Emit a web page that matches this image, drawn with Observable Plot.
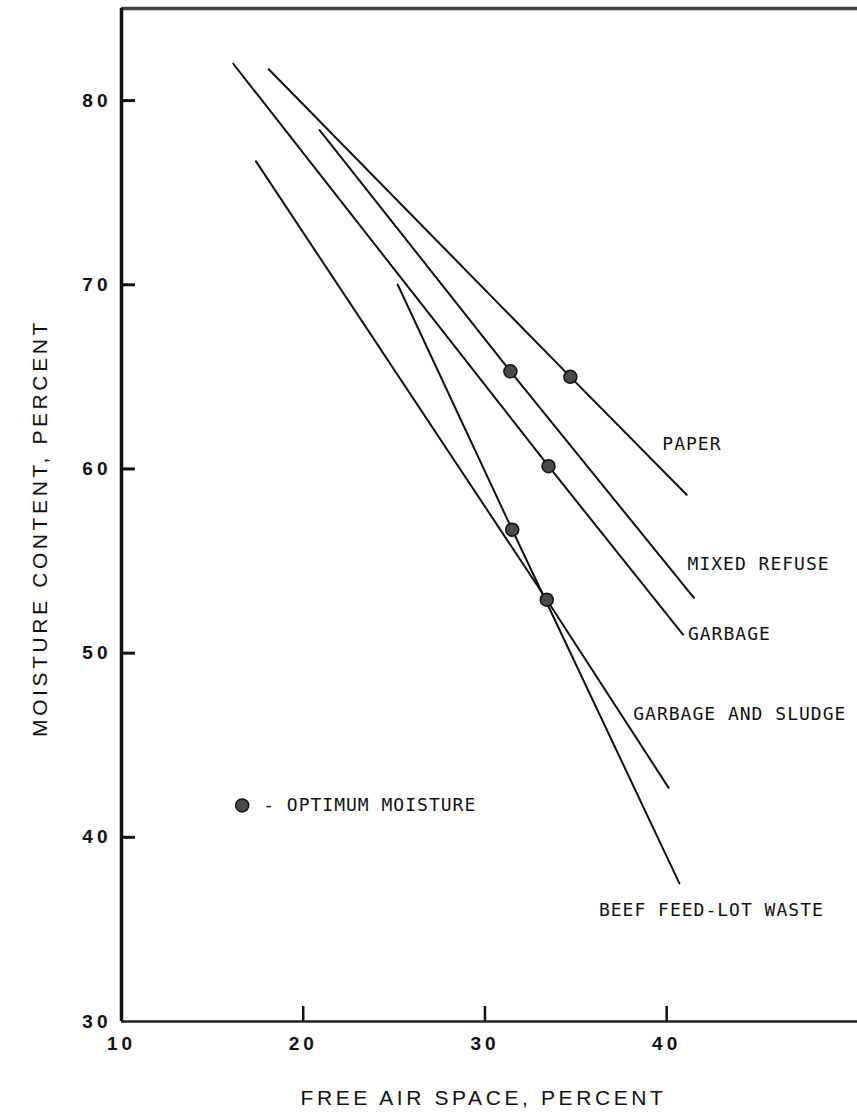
<!DOCTYPE html>
<html><head><meta charset="utf-8">
<script src="https://cdn.jsdelivr.net/npm/d3@7"></script>
<script src="https://cdn.jsdelivr.net/npm/@observablehq/plot@0.6"></script>
<style>body{margin:0;background:#fff}</style>
</head><body><div id="chart"></div>
<script>
// Materials (one straight line each, with its optimum-moisture point)
const materials = ["PAPER", "MIXED REFUSE", "GARBAGE", "GARBAGE AND SLUDGE", "BEEF FEED-LOT WASTE"];
// Line end points (free air space %, moisture content %)
const startAir      = [18.1, 20.9, 16.15, 17.4, 25.2];
const startMoisture = [81.7, 78.4, 82.0, 76.7, 70.0];
const endAir        = [41.1, 41.5, 40.9, 40.1, 40.7];
const endMoisture   = [58.6, 53.0, 51.0, 42.7, 37.5];
// Optimum moisture points
const optimumAir      = [34.7, 31.4, 33.5, 33.4, 31.5];
const optimumMoisture = [65.0, 65.3, 60.15, 52.9, 56.7];
// Label anchors (annotation positions in data units)
const labelAir      = [39.76, 41.15, 41.17, 38.16, 36.27];
const labelMoisture = [61.35, 54.8, 51.0, 46.66, 36.03];
// Legend
const legendText = "- OPTIMUM MOISTURE";
const legendAir = 16.64, legendMoisture = 41.73;
// Axes
const xDomain = [10, 50.5];
const yDomain = [30, 85];
const xTicks = [10, 20, 30, 40];
const yTicks = [30, 40, 50, 60, 70, 80];
const xTitle = "FREE AIR SPACE, PERCENT";
const yTitle = "MOISTURE CONTENT, PERCENT";

const lineRows = [];
materials.forEach((m, i) => {
  lineRows.push({m, x: startAir[i], y: startMoisture[i]});
  lineRows.push({m, x: optimumAir[i], y: optimumMoisture[i]});
  lineRows.push({m, x: endAir[i], y: endMoisture[i]});
});
const optRows = materials.map((m, i) => ({m, x: optimumAir[i], y: optimumMoisture[i]}));
const labelRows = materials.map((m, i) => ({m, x: labelAir[i], y: labelMoisture[i]}));

const sans = "Liberation Sans, Arial, Helvetica, sans-serif";
const mono = "DejaVu Sans Mono, monospace";
const W = 857, H = 1113, ML = 121, MR = 0, MT = 8, MB = 92;

const svg = Plot.plot({
  width: W,
  height: H,
  marginLeft: ML,
  marginRight: MR,
  marginTop: MT,
  marginBottom: MB,
  style: {background: "#fff", color: "#111", fontFamily: sans},
  x: {domain: xDomain},
  y: {domain: yDomain},
  marks: [
    Plot.ruleY([yDomain[1]], {stroke: "#444", strokeWidth: 3.5}),
    Plot.ruleX([xDomain[0]], {stroke: "#111", strokeWidth: 3.5}),
    Plot.ruleY([yDomain[0]], {stroke: "#222", strokeWidth: 2.5}),
    // inward tick marks: full-frame ticks trimmed by insets to ~14 px
    Plot.tickX(xTicks.slice(1), {x: d => d, insetTop: (H - MT - MB) - 15, stroke: "#111", strokeWidth: 2.5}),
    Plot.tickY(yTicks.slice(1), {y: d => d, insetRight: (W - ML - MR) - 14, stroke: "#111", strokeWidth: 3}),
    Plot.axisX(xTicks, {tickSize: 0, tickPadding: 15, label: null, fontSize: 19, fontFamily: sans, fill: "#111"}),
    Plot.axisY(yTicks, {tickSize: 0, tickPadding: 10, label: null, fontSize: 19, fontFamily: sans, fill: "#111"}),
    Plot.line(lineRows, {x: "x", y: "y", z: "m", stroke: "#111", strokeWidth: 2}),
    Plot.dot(optRows, {x: "x", y: "y", r: 6.5, fill: "#4a4a4a", stroke: "#111", strokeWidth: 1.5}),
    Plot.text(labelRows, {x: "x", y: "y", text: "m", textAnchor: "start", lineAnchor: "middle", fontFamily: mono, fontSize: 18, fill: "#111"}),
    Plot.dot([0], {x: () => legendAir, y: () => legendMoisture, r: 6.5, fill: "#4a4a4a", stroke: "#111", strokeWidth: 1.5}),
    Plot.text([legendText], {x: () => legendAir, y: () => legendMoisture, text: d => d, dx: 21, textAnchor: "start", lineAnchor: "middle", fontFamily: mono, fontSize: 18, fill: "#111"}),
    Plot.text([xTitle], {frameAnchor: "bottom", text: d => d, dy: 77, dx: -6, textAnchor: "middle", lineAnchor: "middle", fontSize: 21, fontFamily: sans, fill: "#111"}),
    Plot.text([yTitle], {frameAnchor: "left", text: d => d, rotate: -90, dx: -81, dy: 13, textAnchor: "middle", lineAnchor: "middle", fontSize: 21, fontFamily: sans, fill: "#111"})
  ]
});

const s = d3.select(svg);
s.selectAll("text").each(function() {
  const t = this.textContent;
  if (t === xTitle || t === yTitle) d3.select(this).style("letter-spacing", "3.6px");
  else if (/^\d+$/.test(t)) d3.select(this).style("letter-spacing", "4px").style("font-weight", "600");
  else d3.select(this).style("letter-spacing", "1px");
});
document.getElementById("chart").appendChild(svg);
</script>
</body></html>
